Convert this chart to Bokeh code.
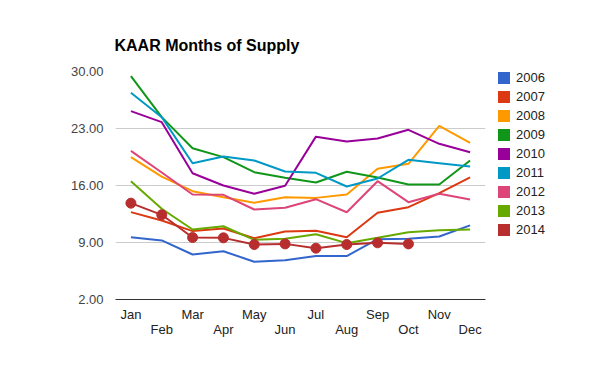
from bokeh.plotting import figure
from bokeh.layouts import row
from bokeh.models import (Range1d, FixedTicker, NumeralTickFormatter, LinearAxis,
                          Legend, LegendItem, Title)
from bokeh.embed import file_html
from bokeh.resources import INLINE

months = ["Jan", "Feb", "Mar", "Apr", "May", "Jun", "Jul", "Aug", "Sep", "Oct", "Nov", "Dec"]
y_ticks = [2, 9, 16, 23, 30]

s2006 = [9.65, 9.25, 7.53, 7.93, 6.63, 6.83, 7.33, 7.33, 9.40, 9.45, 9.74, 11.10]
s2007 = [12.73, 11.70, 10.40, 10.72, 9.53, 10.35, 10.44, 9.65, 12.65, 13.34, 15.06, 17.00]
s2008 = [19.48, 17.10, 15.30, 14.56, 13.87, 14.56, 14.48, 14.90, 18.05, 18.66, 23.33, 21.24]
s2009 = [29.42, 24.40, 20.58, 19.48, 17.64, 16.95, 16.37, 17.68, 16.98, 16.12, 16.12, 19.07]
s2010 = [25.13, 23.78, 17.51, 16.00, 14.98, 15.96, 22.00, 21.40, 21.77, 22.84, 21.12, 20.09]
s2011 = [27.38, 24.39, 18.74, 19.56, 19.07, 17.72, 17.56, 15.88, 16.86, 19.15, 18.74, 18.33]
s2012 = [20.26, 17.60, 14.90, 14.86, 13.05, 13.26, 14.32, 12.72, 16.53, 13.95, 14.98, 14.28]
s2013 = [16.53, 13.14, 10.60, 11.00, 9.33, 9.45, 10.02, 8.92, 9.57, 10.26, 10.51, 10.60]
s2014 = [13.83, 12.40, 9.61, 9.57, 8.75, 8.83, 8.30, 8.75, 8.96, 8.83]

years = ["2006", "2007", "2008", "2009", "2010", "2011", "2012", "2013", "2014"]
series = [s2006, s2007, s2008, s2009, s2010, s2011, s2012, s2013, s2014]
colors = ["#3366cc", "#dc3912", "#ff9900", "#109618", "#990099",
          "#0099c6", "#dd4477", "#66aa00", "#b82e2e"]

FONT = "Liberation Sans"
NAN = float("nan")

p = figure(width=497, height=371, output_backend="svg", toolbar_location=None,
           x_range=Range1d(-0.5, 11.5), y_range=Range1d(2, 30),
           min_border_left=115, min_border_right=12, min_border_top=71,
           min_border_bottom=72, outline_line_color=None, title=None)

p.add_layout(Title(text="KAAR Months of Supply", align="left", offset=-1,
                   text_font=FONT, text_font_size="16px", text_font_style="bold",
                   text_color="#000000", standoff=35), "above")

# y axis
p.yaxis.ticker = FixedTicker(ticks=y_ticks)
p.yaxis.formatter = NumeralTickFormatter(format="0.00")
p.yaxis.axis_line_color = None
p.yaxis.major_tick_line_color = None
p.yaxis.minor_tick_line_color = None
p.yaxis.major_tick_out = 0
p.yaxis.major_label_standoff = 12
p.yaxis.major_label_text_font = FONT
p.yaxis.major_label_text_font_size = "13px"
p.yaxis.major_label_text_color = "#444444"
p.ygrid.ticker = FixedTicker(ticks=y_ticks[1:])
p.ygrid.grid_line_color = "#cccccc"
p.xgrid.grid_line_color = None

# x axis: alternating rows
odd_idx = list(range(0, 12, 2))
even_idx = list(range(1, 12, 2))
ax1 = p.xaxis[0]
ax1.ticker = FixedTicker(ticks=odd_idx)
ax1.major_label_overrides = {i: months[i] for i in odd_idx}
ax1.axis_line_color = "#333333"
ax1.axis_line_width = 1
ax1.major_tick_line_color = None
ax1.minor_tick_line_color = None
ax1.major_tick_out = 0
ax1.major_label_standoff = 7
ax1.major_label_text_font = FONT
ax1.major_label_text_font_size = "13px"
ax1.major_label_text_color = "#222222"

ax2 = LinearAxis(ticker=FixedTicker(ticks=even_idx),
                 major_label_overrides={i: months[i] for i in even_idx},
                 axis_line_color=None, major_tick_line_color=None,
                 minor_tick_line_color=None, major_tick_out=0, major_label_standoff=-3,
                 major_label_text_font=FONT, major_label_text_font_size="13px",
                 major_label_text_color="#222222")
p.add_layout(ax2, "below")

# legend figure
lf = figure(width=103, height=371, output_backend="svg", toolbar_location=None,
            x_range=Range1d(0, 1), y_range=Range1d(0, 1),
            x_axis_type=None, y_axis_type=None, min_border=0,
            outline_line_color=None, title=None)
lf.grid.visible = False

items = []
for yr, vals, c in zip(years, series, colors):
    xs = list(range(len(vals)))
    p.line(xs, vals, line_color=c, line_width=2)
    if yr == "2014":
        p.scatter(xs, vals, size=10, fill_color=c, line_color=c)
    sq = lf.quad(left=[NAN], right=[NAN], top=[NAN], bottom=[NAN],
                 fill_color=c, line_color=None)
    items.append(LegendItem(label=yr, renderers=[sq]))

legend = Legend(items=items, location=(-1, 62), padding=0, margin=0,
                glyph_width=15, glyph_height=15, label_height=15, spacing=4,
                label_standoff=5, border_line_color=None, background_fill_alpha=0,
                label_text_font=FONT, label_text_font_size="13px",
                label_text_color="#222222")
lf.add_layout(legend, "center")

layout = row(p, lf)
open("out.html", "w").write(file_html(layout, INLINE))
